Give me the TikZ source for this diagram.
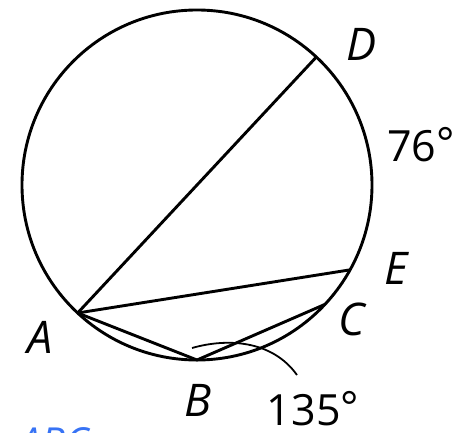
\documentclass[tikz,border=0pt]{standalone}
\usepackage{fontspec}
\setmainfont{Open Sans}
\begin{document}
\begin{tikzpicture}[x=1pt, y=1pt]
        \tikzset{
            chord/.style={line width=2.9pt, line join=round},
            lbl/.style={font=\fontsize{45}{52}\selectfont\itshape, inner sep=0pt},
            measure/.style={font=\fontsize{43}{52}\selectfont, inner sep=0pt},
            marker/.style={line width=1.8pt}
        }
        \clip (-197,-248) rectangle (271,185);
        \useasboundingbox (-197,-248) rectangle (271,185);

        % Circle and points on it
        \node[circle, draw, line width=2.9pt, minimum size=350pt, inner sep=0pt] (O) at (0,0) {};
        \coordinate (A) at (227:175);
        \coordinate (B) at (270:175);
        \coordinate (C) at (317:175);
        \coordinate (D) at (47:175);
        \coordinate (E) at (-29:175);

        % Labels
        \node[lbl] (labA) at (-157,-152) {A};
        \node[lbl] (labB) at (1,-215) {B};
        \node[lbl] (labC) at (155,-134) {C};
        \node[lbl] (labD) at (165,141) {D};
        \node[lbl] (labE) at (199,-83) {E};
        \node[measure] (arcDE) at (224,40) {76\raisebox{3pt}{\textdegree}};
        \node[measure] (angB) at (116,-224) {135\raisebox{3pt}{\textdegree}};
        \node[font=\fontsize{40}{48}\selectfont\itshape, text={rgb,255:red,55;green,115;blue,245}, anchor=base west, inner sep=0pt] (title) at (-178,-271) {ABC};

        % Chords
        \draw[chord] (A) -- (D);
        \draw[chord] (A) -- (E);
        \draw[chord] (A) -- (B) -- (C);

        % Angle mark at B
        \draw[marker] (-5,-163) .. controls (30,-153) and (75,-155) .. (100,-190);
\end{tikzpicture}
\end{document}
